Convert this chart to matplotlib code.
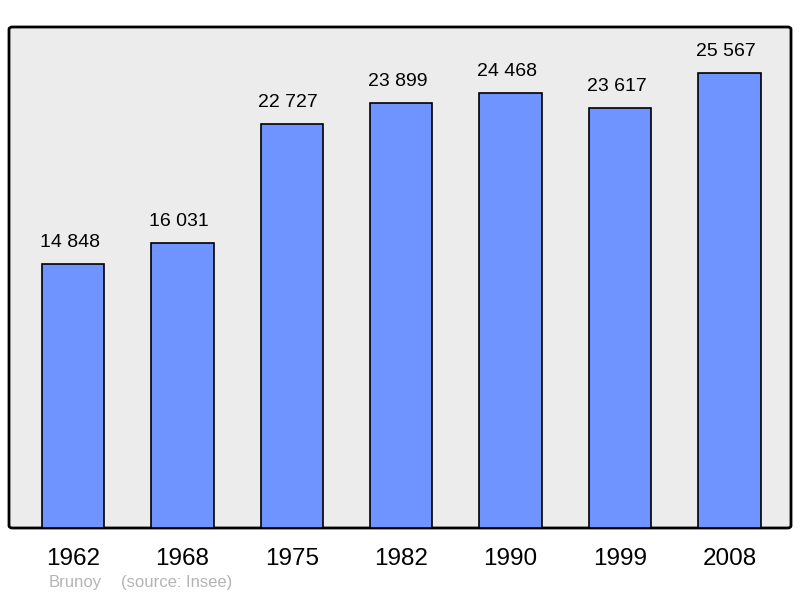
import matplotlib
matplotlib.use("Agg")
import matplotlib.pyplot as plt
from matplotlib.patches import FancyBboxPatch

years = ["1962", "1968", "1975", "1982", "1990", "1999", "2008"]
population = [14848, 16031, 22727, 23899, 24468, 23617, 25567]
labels = ["14 848", "16 031", "22 727", "23 899", "24 468", "23 617", "25 567"]
town = "Brunoy"
source = "(source: Insee)"

plt.rcParams['font.family'] = ['Liberation Sans', 'DejaVu Sans']

W, H = 800, 598
fig = plt.figure(figsize=(W / 100, H / 100), dpi=100)

# background box with rounded corners
box = FancyBboxPatch((9 / W, (H - 528) / H), (791 - 9) / W, (528 - 27) / H,
                     boxstyle="round,pad=0,rounding_size=0.004",
                     transform=fig.transFigure, facecolor="#ececec",
                     edgecolor="black", linewidth=2, zorder=0)
fig.patches.append(box)

ax = fig.add_axes([9 / W, (H - 528) / H, (791 - 9) / W, (528 - 27) / H])
ax.set_zorder(2)
ax.set_facecolor("none")
for s in ax.spines.values():
    s.set_visible(False)

x = list(range(len(years)))
ax.bar(x, population, width=0.57, color="#7094ff", edgecolor="black", linewidth=1.2, zorder=2)
ax.set_xlim(-0.585, 6.563)
ax.set_ylim(0, 28150)

for xi, v, lab in zip(x, population, labels):
    ax.annotate(lab, (xi, v), xytext=(-2.5, 9), textcoords="offset points",
                ha="center", va="bottom", fontsize=14, color="black")

ax.set_xticks(x)
ax.set_xticklabels(years, fontsize=17.5)
ax.tick_params(axis="x", length=0, pad=14.5)
ax.set_yticks([])

fig.text(49 / W, 1 - 583 / H, town, fontsize=12, color="#b4b4b4", va="center", ha="left")
fig.text(121 / W, 1 - 583 / H, source, fontsize=12, color="#b4b4b4", va="center", ha="left")

fig.savefig("out.png", dpi=100)
